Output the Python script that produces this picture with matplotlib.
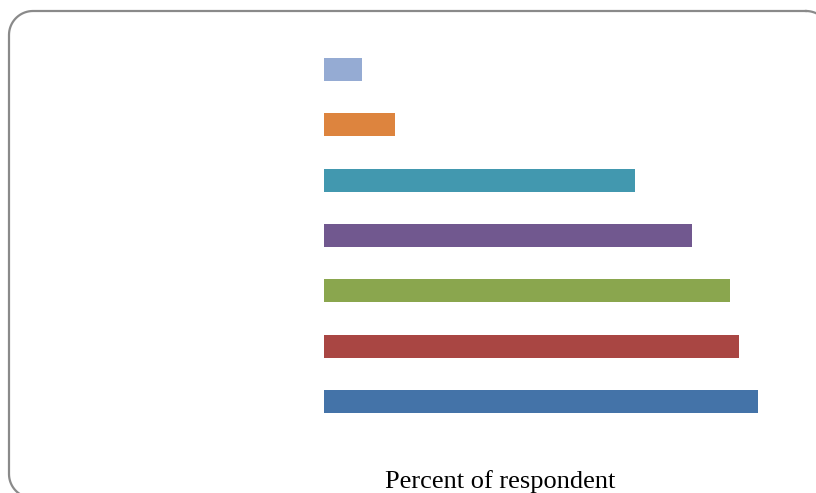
import numpy as np
import matplotlib.pyplot as plt
from matplotlib.lines import Line2D

# categories are not labelled on the chart, bottom bar first
categorias = ["A", "B", "C", "D", "E", "F", "G"]
valores = [86.8, 83.0, 81.2, 73.6, 62.2, 14.2, 7.6]
cores = ["#4473A8", "#A94643", "#8AA64E", "#71588F", "#4298AF", "#DD843E", "#95ABD3"]

W, H = 816, 493
fig = plt.figure(figsize=(W / 100, H / 100), dpi=100)


def moldura(x0, y0, x1, y1, r, n=20):
    # retangulo arredondado em pixels (y para baixo), feito de segmentos
    xs, ys = [], []
    cantos = [(x1 - r, y0 + r, -90, 0), (x1 - r, y1 - r, 0, 90),
              (x0 + r, y1 - r, 90, 180), (x0 + r, y0 + r, 180, 270)]
    for cx, cy, a0, a1 in cantos:
        t = np.radians(np.linspace(a0, a1, n))
        xs += list(cx + r * np.cos(t))
        ys += list(cy + r * np.sin(t))
    xs.append(xs[0])
    ys.append(ys[0])
    return np.array(xs) / W, 1 - np.array(ys) / H


mx, my = moldura(9, 11, 830, 498, 24)
fig.add_artist(Line2D(mx, my, color="#8a8a8a", linewidth=1.6, transform=fig.transFigure))

ax = fig.add_axes([324 / W, 1 - 443 / H, 450 / W, 415 / H])
ax.set_facecolor("none")
ax.barh(range(len(categorias)), valores, height=0.42, color=cores)
ax.set_xlim(0, 90)
ax.set_ylim(-0.75, 6.75)
ax.set_xticks([])
ax.set_yticks([])
for lado in ax.spines.values():
    lado.set_visible(False)

fig.text(500 / W, 1 - 488 / H, "Percent of respondent", ha="center", va="baseline",
         fontsize=19, family="Liberation Serif")

fig.savefig("out.png", dpi=100)
